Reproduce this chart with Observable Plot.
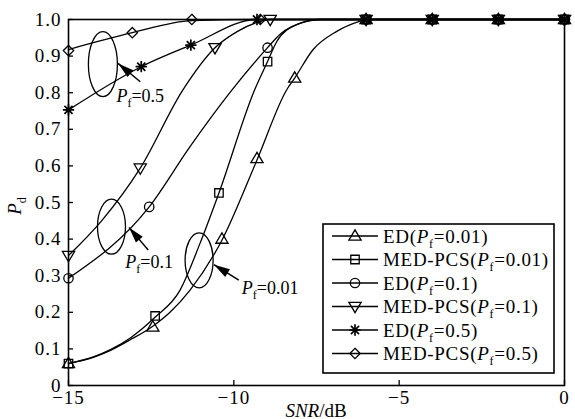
<!DOCTYPE html>
<html><head><meta charset="utf-8">
<script src="https://cdn.jsdelivr.net/npm/d3@7"></script>
<script src="https://cdn.jsdelivr.net/npm/@observablehq/plot@0.6"></script>
<style>
body{margin:0;background:#fff}
#chart{position:relative;width:575px;height:419px;overflow:hidden}
</style></head><body><div id="chart"></div>
<script>
// ---- data ----
const xTicks = [-15, -10, -5, 0];
const yTicks = [0, 0.1, 0.2, 0.3, 0.4, 0.5, 0.6, 0.7, 0.8, 0.9, 1.0];

const seriesLabels = ["ED(Pf=0.01)", "MED-PCS(Pf=0.01)", "ED(Pf=0.1)", "MED-PCS(Pf=0.1)", "ED(Pf=0.5)", "MED-PCS(Pf=0.5)"];

const ed001LineX = [-15, -14.25, -13.73, -13.13, -12.45, -11.93, -11.33, -10.36, -9.3, -8.4, -8.16, -7.6, -6.9, -6.2, -6, -4, -2, 0];
const ed001LineY = [0.06, 0.077, 0.096, 0.125, 0.162, 0.2, 0.26, 0.397, 0.616, 0.808, 0.84, 0.918, 0.967, 0.995, 1, 1, 1, 1];
const ed001MarkX = [-15, -12.45, -10.36, -9.3, -8.16, -6, -4, -2, 0];
const ed001MarkY = [0.06, 0.16, 0.40, 0.62, 0.84, 1, 1, 1, 1];

const med001LineX = [-15, -14.25, -13.73, -13.13, -12.4, -11.63, -11.02, -10.45, -9.37, -8.98, -8.7, -8.1, -7.4, -6, -4, -2, 0];
const med001LineY = [0.06, 0.078, 0.098, 0.13, 0.185, 0.26, 0.389, 0.526, 0.808, 0.885, 0.94, 0.986, 1, 1, 1, 1, 1];
const med001MarkX = [-15, -12.38, -10.45, -8.98, -6, -4, -2, 0];
const med001MarkY = [0.06, 0.19, 0.526, 0.885, 1, 1, 1, 1];

const ed01LineX = [-15, -12.56, -11.33, -10.12, -8.98, -8.6, -7.8, -7.4, -6, -4, -2, 0];
const ed01LineY = [0.293, 0.488, 0.652, 0.80, 0.923, 0.96, 0.995, 1, 1, 1, 1, 1];
const ed01MarkX = [-15, -12.56, -8.98, -6, -4, -2, 0];
const ed01MarkY = [0.293, 0.488, 0.923, 1, 1, 1, 1];

const med01LineX = [-15, -14, -12.83, -11.54, -10.57, -9.9, -9.3, -8.9, -6, -4, -2, 0];
const med01LineY = [0.355, 0.45, 0.594, 0.808, 0.923, 0.967, 0.992, 1, 1, 1, 1, 1];
const med01MarkX = [-15, -12.83, -10.57, -8.9, -6, -4, -2, 0];
const med01MarkY = [0.355, 0.594, 0.923, 1, 1, 1, 1, 1];

const ed05LineX = [-15, -12.8, -11.3, -9.3, -6, -4, -2, 0];
const ed05LineY = [0.753, 0.871, 0.93, 1, 1, 1, 1, 1];
const ed05MarkX = [-15, -12.8, -11.3, -9.3, -6, -4, -2, 0];
const ed05MarkY = [0.753, 0.871, 0.93, 1, 1, 1, 1, 1];

const med05LineX = [-15, -13.07, -11.27, -9.2, -6, -4, -2, 0];
const med05LineY = [0.918, 0.964, 0.997, 1, 1, 1, 1, 1];
const med05MarkX = [-15, -13.07, -11.27, -9.2, -6, -4, -2, 0];
const med05MarkY = [0.915, 0.964, 1, 1, 1, 1, 1, 1];

// annotation groups: ellipse centre, arrow tail -> tip, label
const annLabels = ["Pf=0.5", "Pf=0.1", "Pf=0.01"];
const annEllipseX = [-13.96, -13.70, -11.05];
const annEllipseY = [0.878, 0.434, 0.342];
const annArrowX1 = [-12.83, -12.59, -9.85];
const annArrowY1 = [0.830, 0.370, 0.288];
const annArrowX2 = [-13.50, -13.17, -10.60];
const annArrowY2 = [0.880, 0.432, 0.330];
const annLabelX = [-13.55, -13.28, -9.76];
const annLabelY = [0.789, 0.337, 0.266];

// ---- symbols ----
const sym = (draw) => ({draw});
const asterisk8 = sym((ctx, size) => {
  const r = Math.sqrt(size / Math.PI) * 1.2, d = r * 0.72;
  ctx.moveTo(0, -r); ctx.lineTo(0, r);
  ctx.moveTo(-r, 0); ctx.lineTo(r, 0);
  ctx.moveTo(-d, -d); ctx.lineTo(d, d);
  ctx.moveTo(-d, d); ctx.lineTo(d, -d);
});
const triDown = sym((ctx, size) => {
  const r = Math.sqrt(size / Math.PI);
  const w = r * 1.3, h = r * 1.1;
  ctx.moveTo(-w, -h * 0.8); ctx.lineTo(w, -h * 0.8); ctx.lineTo(0, h * 1.2); ctx.closePath();
});
const triUp = sym((ctx, size) => {
  const r = Math.sqrt(size / Math.PI);
  const w = r * 1.3, h = r * 1.1;
  ctx.moveTo(-w, h * 0.8); ctx.lineTo(w, h * 0.8); ctx.lineTo(0, -h * 1.2); ctx.closePath();
});
const squareS = sym((ctx, size) => {
  const r = Math.sqrt(size / Math.PI) * 0.9;
  ctx.rect(-r, -r, 2 * r, 2 * r);
});
const circleS = sym((ctx, size) => {
  const r = Math.sqrt(size / Math.PI);
  ctx.moveTo(r, 0); ctx.arc(0, 0, r, 0, 2 * Math.PI);
});
const diamondS = sym((ctx, size) => {
  const r = Math.sqrt(size / Math.PI) * 1.1;
  ctx.moveTo(0, -r); ctx.lineTo(r, 0); ctx.lineTo(0, r); ctx.lineTo(-r, 0); ctx.closePath();
});
function ellipseSym(rx, ry) {
  return sym((ctx) => {
    const k = 0.5523;
    ctx.moveTo(rx, 0);
    ctx.bezierCurveTo(rx, ry * k, rx * k, ry, 0, ry);
    ctx.bezierCurveTo(-rx * k, ry, -rx, ry * k, -rx, 0);
    ctx.bezierCurveTo(-rx, -ry * k, -rx * k, -ry, 0, -ry);
    ctx.bezierCurveTo(rx * k, -ry, rx, -ry * k, rx, 0);
    ctx.closePath();
  });
}

const series = [
  {lx: ed001LineX, ly: ed001LineY, mx: ed001MarkX, my: ed001MarkY, symbol: triUp, sw: 1.3},
  {lx: med001LineX, ly: med001LineY, mx: med001MarkX, my: med001MarkY, symbol: squareS, sw: 1.3},
  {lx: ed01LineX, ly: ed01LineY, mx: ed01MarkX, my: ed01MarkY, symbol: circleS, sw: 1.3},
  {lx: med01LineX, ly: med01LineY, mx: med01MarkX, my: med01MarkY, symbol: triDown, sw: 1.3},
  {lx: ed05LineX, ly: ed05LineY, mx: ed05MarkX, my: ed05MarkY, symbol: asterisk8, sw: 1.7},
  {lx: med05LineX, ly: med05LineY, mx: med05MarkX, my: med05MarkY, symbol: diamondS, sw: 1.3}
].map((s, i) => ({...s, label: seriesLabels[i]}));

const markR = 4.7;
const lineMarks = [], dotMarks = [];
for (const s of series) {
  const lineData = s.lx.map((x, i) => ({x, y: s.ly[i]}));
  const markData = s.mx.map((x, i) => ({x, y: s.my[i]}));
  lineMarks.push(Plot.line(lineData, {x: "x", y: "y", curve: "monotone-x", stroke: "black", strokeWidth: 1.3}));
  dotMarks.push(Plot.dot(markData, {x: "x", y: "y", symbol: s.symbol, r: markR, stroke: "black", fill: "none", strokeWidth: s.sw}));
}

const ann = annLabels.map((label, i) => ({
  label, ex: annEllipseX[i], ey: annEllipseY[i],
  x1: annArrowX1[i], y1: annArrowY1[i], x2: annArrowX2[i], y2: annArrowY2[i],
  tx: annLabelX[i], ty: annLabelY[i]
}));

const FONT = "'Liberation Serif','Times New Roman',Times,serif";

const chart = Plot.plot({
  width: 575, height: 419,
  marginLeft: 68, marginRight: 11, marginTop: 19, marginBottom: 34,
  style: {fontFamily: FONT, fontSize: "19px", background: "white", color: "black", overflow: "visible"},
  x: {domain: [-15, 0]},
  y: {domain: [0, 1]},
  marks: [
    Plot.axisX(xTicks, {tickSize: -5, tickPadding: 10, label: null, strokeWidth: 1.3}),
    Plot.axisY(yTicks, {tickSize: -5, tickPadding: 12, label: null, strokeWidth: 1.3,
      tickFormat: d => d === 0 ? "0" : d.toFixed(1)}),
    ...lineMarks,
    ...dotMarks,
    Plot.dot(ann.slice(0, 1), {x: "ex", y: "ey", symbol: ellipseSym(14.5, 32.5), r: 5, stroke: "black", fill: "none", strokeWidth: 1.3}),
    Plot.dot(ann.slice(1), {x: "ex", y: "ey", symbol: ellipseSym(14, 27.5), r: 5, stroke: "black", fill: "none", strokeWidth: 1.3}),
    Plot.link(ann, {x1: "x1", y1: "y1", x2: "x2", y2: "y2", stroke: "black", strokeWidth: 1.5, markerEnd: "arrow"}),
    Plot.text(ann, {x: "tx", y: "ty", text: "label", textAnchor: "start", lineAnchor: "middle", fill: "black", fontSize: 18}),
    Plot.frame({stroke: "black", strokeWidth: 1.6})
  ]
});
document.getElementById("chart").appendChild(chart);

const svg = d3.select(chart);

// tick label spacing
svg.selectAll("g[aria-label^='x-axis tick label'] text, g[aria-label^='y-axis tick label'] text")
  .attr("letter-spacing", "1px");

// filled arrow heads
svg.selectAll("marker").each(function() {
  const m = d3.select(this);
  m.attr("viewBox", "-17 -6 18 12").attr("markerWidth", 18).attr("markerHeight", 12)
   .attr("markerUnits", "userSpaceOnUse").attr("refX", 0).attr("refY", 0)
   .attr("orient", "auto").attr("fill", "black").attr("stroke", "none");
  m.selectAll("*").remove();
  m.append("path").attr("d", "M-16,-4.5L0,0L-16,4.5Z").attr("fill", "black").attr("stroke", "none");
});

// rich text helper: P italic, subscript
function richParts(str) {
  const m = str.match(/^(.*?)P([fd])(.*)$/);
  if (!m) return [{t: str}];
  return [{t: m[1]}, {t: "P", i: true}, {t: m[2], sub: true}, {t: m[3]}];
}
function setRich(textSel, parts) {
  textSel.text(null);
  let subbed = false;
  for (const p of parts) {
    if (!p.t) continue;
    const ts = textSel.append("tspan").text(p.t);
    if (p.i) ts.attr("font-style", "italic");
    if (p.sub) { ts.attr("font-size", "12px").attr("dy", 5); subbed = true; }
    else if (subbed) { ts.attr("dy", -5); subbed = false; }
  }
}
svg.selectAll("text").each(function() {
  const t = d3.select(this);
  const s = t.text();
  if (/^P[fd]=/.test(s)) setRich(t, richParts(s));
});

// axis titles
const ns = svg.append("g").attr("font-family", FONT).attr("fill", "black");
const yl = ns.append("text").attr("transform", "translate(21,206) rotate(-90)").attr("text-anchor", "middle").attr("font-size", "19px");
setRich(yl, [{t: "P", i: true}, {t: "d", sub: true}]);
const xl = ns.append("text").attr("x", 316).attr("y", 417).attr("text-anchor", "middle").attr("font-size", "19px");
xl.append("tspan").attr("font-style", "italic").text("SNR");
xl.append("tspan").text("/dB");

// legend
const lg = svg.append("g").attr("font-family", FONT).attr("font-size", "19px").attr("text-anchor", "start");
const LX = 323, LY = 224, LW = 231, LH = 149;
lg.append("rect").attr("x", LX).attr("y", LY).attr("width", LW).attr("height", LH)
  .attr("fill", "white").attr("stroke", "black").attr("stroke-width", 1.6);
series.forEach((s, i) => {
  const cy = 236 + i * 23.5;
  lg.append("line").attr("x1", 332).attr("x2", 378).attr("y1", cy).attr("y2", cy).attr("stroke", "black").attr("stroke-width", 1.3);
  const p = d3.path();
  s.symbol.draw(p, Math.PI * markR * markR);
  lg.append("path").attr("d", p.toString()).attr("transform", `translate(355,${cy})`)
    .attr("fill", "none").attr("stroke", "black").attr("stroke-width", s.sw);
  const t = lg.append("text").attr("x", 383).attr("y", cy).attr("dy", "0.35em")
    .attr("text-anchor", "start").attr("letter-spacing", "0.7px");
  setRich(t, richParts(s.label));
});
</script>
</body></html>
